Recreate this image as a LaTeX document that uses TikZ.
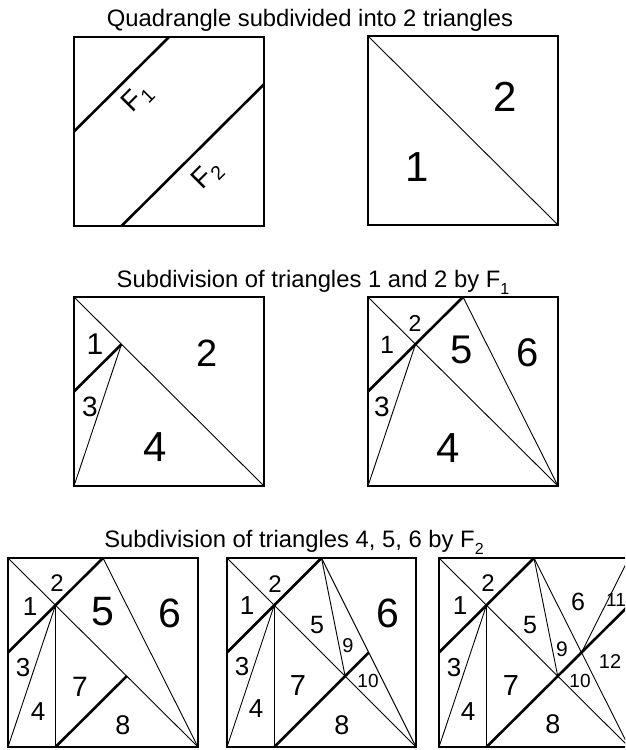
\documentclass[tikz,border=0pt]{standalone}
\usepackage{fontspec}
\setmainfont{Liberation Sans}
\tikzset{
  fr/.style={line width=1.2pt},
  cut/.style={line width=0.9pt},
  face/.style={line width=2.6pt},
  tri/.style={font=\fontsize{#1}{#1}\selectfont, inner sep=0pt},
  ttl/.style={font=\fontsize{23.8}{28}\selectfont, inner sep=0pt, anchor=base}
}
\newcommand{\lowsub}[1]{\raisebox{-0.3em}{\fontsize{16}{16}\selectfont #1}}
\begin{document}
\begin{tikzpicture}[x=1pt,y=-1pt]
\useasboundingbox (0,0) rectangle (625,750);
\clip (0,0) rectangle (625,750);

% titles
\node[ttl] (title1) at (310,26) {Quadrangle subdivided into 2 triangles};
\node[ttl] (title2) at (313,287) {Subdivision of triangles 1 and 2 by F\lowsub{1}};
\node[ttl] (title3) at (294,547) {Subdivision of triangles 4, 5, 6 by F\lowsub{2}};

% row 1: the two faces
\begin{scope}[shift={(74,226)},x=190pt,y=189pt]
\draw[fr] (0,0) rectangle (1,1);
\draw[face] (0,0.5) -- (0.5,1);
\draw[face] (0.25,0) -- (1,0.75);
\end{scope}
\node[tri=28,rotate=45] (f1) at (138,98) {F\textsubscript{1}};
\node[tri=28,rotate=45] (f2) at (208,175) {F\textsubscript{2}};

\begin{scope}[shift={(368,225)},x=190pt,y=189pt]
\draw[fr] (0,0) rectangle (1,1);
\draw[cut] (0,1) -- (1,0);
\end{scope}
\node[tri=42] (a2) at (505,97) {2};
\node[tri=42] (a1) at (417,167) {1};

% row 2: cut by F1
\begin{scope}[shift={(74,486)},x=190pt,y=189pt]
\draw[fr] (0,0) rectangle (1,1);
\draw[cut] (0,1) -- (1,0);
\draw[cut] (0.25,0.75) -- (0,0);
\draw[face] (0,0.5) -- (0.25,0.75);
\end{scope}
\node[tri=30] (b1) at (95,344) {1};
\node[tri=38] (b2) at (207,353) {2};
\node[tri=28] (b3) at (90,407) {3};
\node[tri=42] (b4) at (155,447) {4};

\begin{scope}[shift={(368,486)},x=190pt,y=189pt]
\draw[fr] (0,0) rectangle (1,1);
\draw[cut] (0,1) -- (1,0);
\draw[cut] (0.25,0.75) -- (0,0);
\draw[cut] (0.5,1) -- (1,0);
\draw[face] (0,0.5) -- (0.5,1);
\end{scope}
\node[tri=25] (c1) at (387,345) {1};
\node[tri=23] (c2) at (415,323) {2};
\node[tri=28] (c3) at (382,407) {3};
\node[tri=42] (c4) at (448,448) {4};
\node[tri=40] (c5) at (462,350) {5};
\node[tri=40] (c6) at (528,353) {6};

% row 3: cut by F2
\begin{scope}[shift={(8,747)},x=190pt,y=189pt]
\draw[fr] (0,0) rectangle (1,1);
\draw[cut] (0,1) -- (1,0);
\draw[cut] (0.25,0.75) -- (0,0);
\draw[cut] (0.5,1) -- (1,0);
\draw[cut] (0.25,0.75) -- (0.25,0);
\draw[face] (0,0.5) -- (0.5,1);
\draw[face] (0.25,0) -- (0.625,0.375);
\end{scope}
\node[tri=26] (d1) at (30,607) {1};
\node[tri=24] (d2) at (57,583) {2};
\node[tri=26] (d3) at (23,668) {3};
\node[tri=26] (d4) at (38,712) {4};
\node[tri=41] (d5) at (103,612) {5};
\node[tri=41] (d6) at (170,613) {6};
\node[tri=28] (d7) at (80,687) {7};
\node[tri=27] (d8) at (123,725) {8};

\begin{scope}[shift={(227,747)},x=189pt,y=189pt]
\draw[fr] (0,0) rectangle (1,1);
\draw[cut] (0,1) -- (1,0);
\draw[cut] (0.25,0.75) -- (0,0);
\draw[cut] (0.5,1) -- (1,0);
\draw[cut] (0.25,0.75) -- (0.25,0);
\draw[cut] (0.5,1) -- (0.625,0.375);
\draw[face] (0,0.5) -- (0.5,1);
\draw[face] (0.25,0) -- (0.75,0.5);
\end{scope}
\node[tri=26] (e1) at (247,606) {1};
\node[tri=24] (e2) at (275,584) {2};
\node[tri=26] (e3) at (242,667) {3};
\node[tri=26] (e4) at (256,709) {4};
\node[tri=25] (e5) at (317,625) {5};
\node[tri=41] (e6) at (388,613) {6};
\node[tri=29] (e7) at (298,686) {7};
\node[tri=27] (e8) at (342,725) {8};
\node[tri=20] (e9) at (348,646) {9};
\node[tri=19] (e10) at (368,681) {10};

\begin{scope}[shift={(439,747)},x=190pt,y=189pt]
\draw[fr] (0,0) rectangle (1,1);
\draw[cut] (0,1) -- (1,0);
\draw[cut] (0.25,0.75) -- (0,0);
\draw[cut] (0.5,1) -- (1,0);
\draw[cut] (0.25,0.75) -- (0.25,0);
\draw[cut] (0.5,1) -- (0.625,0.375);
\draw[cut] (0.75,0.5) -- (1,1);
\draw[face] (0,0.5) -- (0.5,1);
\draw[face] (0.25,0) -- (1,0.75);
\end{scope}
\node[tri=26] (g1) at (460,606) {1};
\node[tri=24] (g2) at (488,583) {2};
\node[tri=26] (g3) at (454,668) {3};
\node[tri=26] (g4) at (468,712) {4};
\node[tri=25] (g5) at (530,625) {5};
\node[tri=25] (g6) at (578,602) {6};
\node[tri=29] (g7) at (511,686) {7};
\node[tri=27] (g8) at (553,724) {8};
\node[tri=21] (g9) at (562,649) {9};
\node[tri=19] (g10) at (580,681) {10};
\node[tri=19] (g11) at (616,600) {11};
\node[tri=20] (g12) at (610,662) {12};
\end{tikzpicture}
\end{document}
